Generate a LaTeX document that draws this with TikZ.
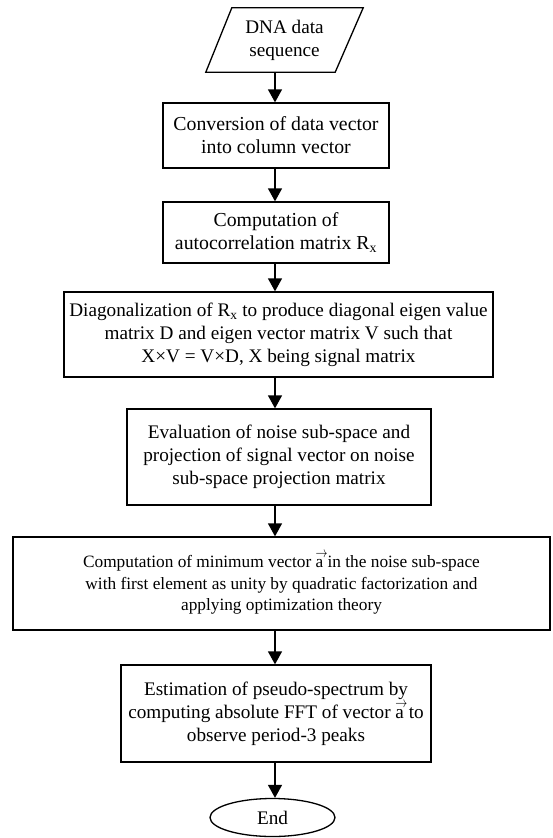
\documentclass[tikz,border=0pt]{standalone}
\usepackage{fontspec}
\setmainfont{Liberation Serif}
\usetikzlibrary{arrows.meta,shapes.geometric,calc}
\newcommand\myveca{\rlap{\raisebox{0.55em}{\resizebox{12pt}{5.5pt}{$\rightarrow$}}}a}
\begin{document}
\begin{tikzpicture}[x=1pt,y=-1pt,
  txt/.style={align=center, inner sep=0pt, font=\fontsize{19.2}{23}\selectfont},
  box/.style={txt, draw, line width=1.3pt},
  arr/.style={-{Triangle[width=14pt,length=13pt]}, line width=1.3pt}]
\useasboundingbox (0,0) rectangle (553,838);
\coordinate (axis) at (275,0);
\node[txt, minimum width=130pt, minimum height=64pt] (in) at (284.5,40) {DNA data\\sequence};
\draw[line width=1.3pt] ($(in.north west)+(12.5,0)$) -- ($(in.north east)+(13.5,0)$)
  -- ($(in.south east)+(-14.5,0)$) -- ($(in.south west)+(-13.5,0)$) -- cycle;
\node[box, minimum width=226pt, minimum height=65pt, font=\fontsize{19.8}{23}\selectfont] (b1) at (276,135.5)
  {Conversion of data vector\\into column vector};
\node[box, minimum width=226pt, minimum height=61pt, font=\fontsize{19.8}{23}\selectfont] (b2) at (276,232.5)
  {Computation of\\autocorrelation matrix R\textsubscript{x}};
\node[box, minimum width=429pt, minimum height=85pt] (b3) at (278.5,334.5)
  {Diagonalization of R\textsubscript{x} to produce diagonal eigen value\\matrix D and eigen vector matrix V such that\\X×V = V×D, X being signal matrix};
\node[box, minimum width=304pt, minimum height=96pt] (b4) at (279,457)
  {Evaluation of noise sub-space and\\projection of signal vector on noise\\sub-space projection matrix};
\node[box, minimum width=537pt, minimum height=93pt, font=\fontsize{17.3}{21.7}\selectfont] (b5) at (281.5,583.5)
  {Computation of minimum vector \myveca\ in the noise sub-space\\with first element as unity by quadratic factorization and\\applying optimization theory};
\node[box, minimum width=310pt, minimum height=97pt] (b6) at (276,713.5)
  {Estimation of pseudo-spectrum by\\computing absolute FFT of vector \myveca\ to\\observe period-3 peaks};
\node[txt, draw, line width=1.3pt, ellipse, minimum width=125pt, minimum height=38pt] (end) at (272.5,817.5) {End};
\draw[arr] (in.south -| axis) -- (b1.north -| axis);
\draw[arr] (b1.south -| axis) -- (b2.north -| axis);
\draw[arr] (b2.south -| axis) -- (b3.north -| axis);
\draw[arr] (b3.south -| axis) -- (b4.north -| axis);
\draw[arr] (b4.south -| axis) -- (b5.north -| axis);
\draw[arr] (b5.south -| axis) -- (b6.north -| axis);
\draw[arr] (b6.south -| axis) -- (end.north -| axis);
\end{tikzpicture}
\end{document}
